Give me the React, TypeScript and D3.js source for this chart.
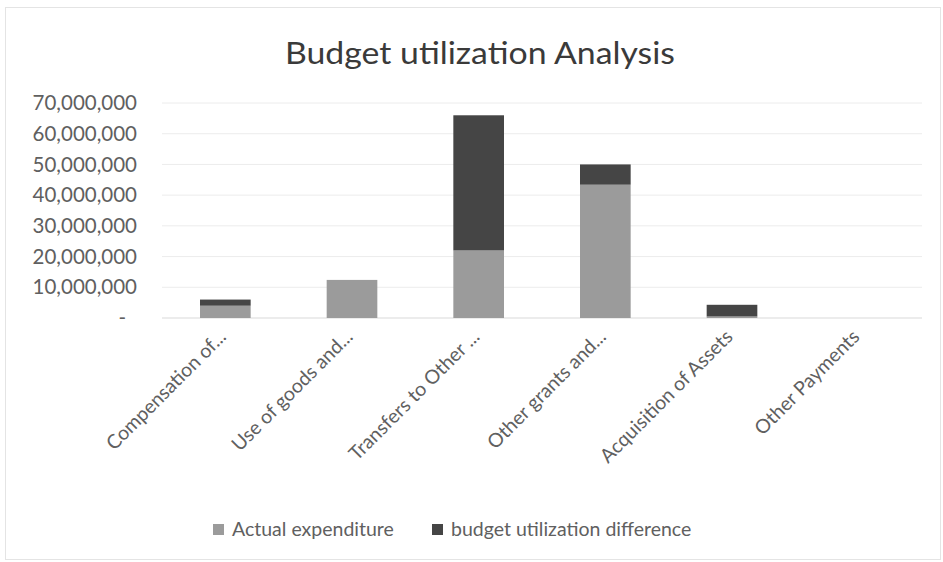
import React from 'react'
import * as d3 from 'd3'

const categories = [
  'Compensation of...',
  'Use of goods and...',
  'Transfers to Other ...',
  'Other grants and...',
  'Acquisition of Assets',
  'Other Payments',
]
const actualExpenditure = [4000000, 12400000, 22000000, 43400000, 500000, 0]
const utilizationDifference = [2000000, 0, 44000000, 6600000, 3800000, 0]
const yTicks = [0, 10000000, 20000000, 30000000, 40000000, 50000000, 60000000, 70000000]
const seriesNames = ['Actual expenditure', 'budget utilization difference']
const seriesColors = ['#9b9b9b', '#454545']

const W = 943
const H = 562
const FONT = 'Lato, "Open Sans", sans-serif'

export default function App() {
  const plot = { left: 162, right: 922, top: 103, bottom: 318 }

  const x = d3.scaleBand<string>().domain(categories).range([plot.left, plot.right]).paddingInner(0.6).paddingOuter(0.3)
  const y = d3.scaleLinear().domain([0, 70000000]).range([plot.bottom, plot.top])

  const rows = categories.map((c, i) => ({ cat: c, actual: actualExpenditure[i], diff: utilizationDifference[i] }))
  const stacked = d3.stack<any>().keys(['actual', 'diff'])(rows)
  const fmt = d3.format(',')

  return (
    <svg width={W} height={H} style={{ position: 'absolute', left: 0, top: 0, background: '#fff' }}>
      <rect x={5.5} y={7.5} width={W - 8} height={H - 10} fill="#fff" stroke="#e4e4e4" />
      <text x={480} y={64} textAnchor="middle" fontFamily={FONT} fontSize={30} fill="#3a3a3a"
        textLength={390} lengthAdjust="spacingAndGlyphs">
        Budget utilization Analysis
      </text>

      {/* gridlines */}
      {yTicks.map(t => (
        <line key={t} x1={plot.left} x2={plot.right} y1={y(t)} y2={y(t)} stroke={t === 0 ? '#d9d9d9' : '#ececec'} strokeWidth={1} />
      ))}

      {/* y labels */}
      {yTicks.map(t => (
        <text key={t} x={t === 0 ? 126 : 137} y={y(t)} dy="0.35em" textAnchor="end" fontFamily={FONT} fontSize={20.5} fill="#606060">
          {t === 0 ? '-' : fmt(t)}
        </text>
      ))}

      {/* bars */}
      {stacked.map((s, si) => (
        <g key={si} fill={seriesColors[si]}>
          {s.map((d, i) => (
            <rect key={i} x={x(categories[i])} width={x.bandwidth()} y={y(d[1])} height={Math.max(0, y(d[0]) - y(d[1]))} />
          ))}
        </g>
      ))}

      {/* x labels */}
      {categories.map(c => {
        const cx = (x(c) ?? 0) + x.bandwidth() / 2 + 2
        return (
          <text key={c} transform={`translate(${cx},${plot.bottom + 20}) rotate(-45)`} textAnchor="end" fontFamily={FONT} fontSize={19.5} fill="#606060">
            {c}
          </text>
        )
      })}

      {/* legend */}
      {seriesNames.map((n, i) => {
        const lx = i === 0 ? 213 : 432
        return (
          <g key={n}>
            <rect x={lx} y={524} width={11} height={11} fill={seriesColors[i]} />
            <text x={lx + 19} y={529} dy="0.35em" fontFamily={FONT} fontSize={19.5} fill="#606060">{n}</text>
          </g>
        )
      })}
    </svg>
  )
}
